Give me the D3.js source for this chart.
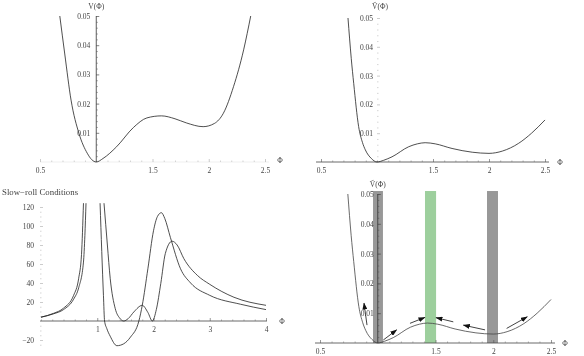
<!DOCTYPE html>
<html>
<head>
<meta charset="utf-8">
<script src="https://cdn.jsdelivr.net/npm/d3@7"></script>
<style>
  body { margin: 0; background: #fff; }
  #chart { will-change: transform; opacity: 0.999; -webkit-font-smoothing: antialiased; }
  svg text { font-family: "Liberation Serif", "DejaVu Serif", serif; font-size: 7.5px; fill: #444; }
</style>
</head>
<body>
<svg id="chart" width="584" height="356"></svg>
<script>
// V(phi), top left
const vPhi = [0.676, 0.72, 0.776, 0.847, 0.92, 0.96, 1.0, 1.06, 1.18, 1.33, 1.45, 1.58, 1.7, 1.8, 1.95, 2.05, 2.13, 2.22, 2.31, 2.373];
const vVal = [0.05, 0.037, 0.0212, 0.0097, 0.003, 0.0008, 0, 0.0012, 0.0052, 0.0118, 0.0151, 0.0158, 0.0148, 0.0134, 0.0121, 0.0132, 0.0167, 0.0258, 0.0384, 0.05];

// tilde V(phi), top right and bottom right
const vtPhi = [0.741, 0.77, 0.792, 0.836, 0.87, 0.896, 0.95, 1.0, 1.06, 1.134, 1.283, 1.36, 1.43, 1.52, 1.67, 1.85, 2.0, 2.12, 2.265, 2.38, 2.5];
const vtVal = [0.05, 0.036, 0.0273, 0.0123, 0.0068, 0.0042, 0.0012, 0, 0.0006, 0.0018, 0.0053, 0.0063, 0.0067, 0.0063, 0.0047, 0.0034, 0.003, 0.0038, 0.0065, 0.01, 0.0146];

// slow-roll conditions, bottom left (two branches each)
const etaLeftPhi = [0, 0.22, 0.4, 0.58, 0.67, 0.72, 0.755];
const etaLeftVal = [4, 8, 13.5, 27, 45, 70, 124];
const epsLeftPhi = [0, 0.22, 0.4, 0.58, 0.67, 0.755, 0.78, 0.8];
const epsLeftVal = [4, 7.5, 12, 23, 35, 62, 90, 124];
const etaRightPhi = [1.05, 1.11, 1.13, 1.17, 1.23, 1.35, 1.47, 1.59, 1.74, 1.8, 1.9, 2.0, 2.07, 2.14, 2.2, 2.3, 2.48, 2.66, 3.0, 3.55, 4.0];
const etaRightVal = [124, 27, 0, -8, -16, -26, -24, -17, 0, 16.5, 55, 95, 110, 114, 108, 88, 55, 40, 27, 17.6, 12];
const epsRightPhi = [1.12, 1.18, 1.23, 1.32, 1.4, 1.47, 1.55, 1.65, 1.8, 1.9, 1.98, 2.05, 2.13, 2.21, 2.33, 2.42, 2.54, 2.78, 3.0, 3.43, 4.0];
const epsRightVal = [124, 80, 45, 13, 3, 0, 2.5, 9.5, 16.5, 9, 0, 12, 39.6, 71, 84, 80, 65.6, 48, 38.6, 25, 16.5];

// ticks
const potTicksX = [0.5, 1.5, 2, 2.5];
const potTicksY = [0.01, 0.02, 0.03, 0.04, 0.05];
const srTicksX = [1, 2, 3, 4];
const srTicksY = [-20, 20, 40, 60, 80, 100, 120];

// bands and flow arrows, bottom right
const bandLo = [0.959, 1.409, 1.946];
const bandHi = [1.045, 1.505, 2.041];
const bandKind = ["gray", "green", "gray"];
const arrowFrom = [[0.907, 0.006], [1.048, 0.001], [1.279, 0.0066], [1.654, 0.0071], [1.929, 0.0044], [2.116, 0.0049]];
const arrowTo = [[0.881, 0.0134], [1.164, 0.0044], [1.409, 0.0086], [1.504, 0.0085], [1.741, 0.006], [2.295, 0.0088]];

const svg = d3.select("#chart");

svg.append("defs").append("marker")
  .attr("id", "head")
  .attr("markerUnits", "userSpaceOnUse")
  .attr("markerWidth", 7).attr("markerHeight", 5)
  .attr("refX", 6.5).attr("refY", 2.5)
  .attr("orient", "auto")
  .append("path").attr("d", "M0,0 L7,2.5 L0,5 z").attr("fill", "#111");

svg.select("defs").append("clipPath").attr("id", "srclip")
  .append("rect").attr("x", 0).attr("y", 203).attr("width", 584).attr("height", 153);

const zip = (a, b) => a.map((d, i) => [d, b[i]]);
const plain = (d) => String(d);

function xAxis(g, x, yPos, ticks, minorStep, dark, ext) {
  const d = x.domain();
  const minor = d3.range(Math.ceil(d[0] / minorStep) * minorStep, d[1] + 1e-9, minorStep)
    .filter((v) => !ticks.some((t) => Math.abs(t - v) < 1e-6));
  const a = g.append("g").attr("transform", `translate(0,${yPos})`);
  a.append("line")
    .attr("x1", x.range()[0] - ext[0]).attr("x2", x.range()[1] + ext[1])
    .attr("stroke", dark ? "#444" : "#e4e4e4").attr("stroke-width", dark ? 0.8 : 0.6);
  a.append("g").call(d3.axisBottom(x).tickValues(minor).tickFormat("").tickSize(-1.5))
    .call((s) => s.select(".domain").remove())
    .selectAll("line").attr("stroke", dark ? "#777" : "#bbb").attr("stroke-width", 0.6);
  a.append("g").call(d3.axisBottom(x).tickValues(ticks).tickSize(-3).tickPadding(6).tickFormat(plain))
    .call((s) => s.select(".domain").remove())
    .call((s) => s.selectAll("line").attr("stroke", dark ? "#555" : "#aaa").attr("stroke-width", 0.6))
    .call((s) => s.selectAll("text").attr("fill", "#444").style("font-size", "7.5px"));
}

function yAxis(g, y, xPos, ticks, minorStep, dark, fmt, pad) {
  const d = y.domain();
  const minor = d3.range(Math.ceil(d[0] / minorStep) * minorStep, d[1] + 1e-9, minorStep)
    .filter((v) => !ticks.some((t) => Math.abs(t - v) < 1e-6) && Math.abs(v) > 1e-9);
  const a = g.append("g").attr("transform", `translate(${xPos},0)`);
  if (dark) {
    a.append("line").attr("y1", y.range()[0]).attr("y2", y.range()[1])
      .attr("stroke", "#333").attr("stroke-width", 0.8);
  }
  a.append("g").call(d3.axisLeft(y).tickValues(minor).tickFormat("").tickSize(-1.5))
    .call((s) => s.select(".domain").remove())
    .selectAll("line").attr("stroke", dark ? "#555" : "#bbb").attr("stroke-width", 0.6);
  a.append("g").call(d3.axisLeft(y).tickValues(ticks).tickSize(-3).tickPadding(pad).tickFormat(fmt))
    .call((s) => s.select(".domain").remove())
    .call((s) => s.selectAll("line").attr("stroke", dark ? "#333" : "#aaa").attr("stroke-width", 0.6))
    .call((s) => s.selectAll("text").attr("fill", "#444").style("font-size", "7.5px"));
}

const potFmt = (d) => d3.format(".2f")(d);
const srFmt = (d) => (d < 0 ? "\u2212" + Math.abs(d) : d);

// ---- top left: V(phi)
{
  const g = svg.append("g");
  const x = d3.scaleLinear().domain([0.5, 2.5]).range([40, 265]);
  const y = d3.scaleLinear().domain([0, 0.05]).range([162, 16]);
  xAxis(g, x, y(0), potTicksX, 0.1, false, [0, 4]);
  yAxis(g, y, x(1), potTicksY, 0.002, true, potFmt, 6);
  g.append("path").datum(zip(vPhi, vVal))
    .attr("d", d3.line().x((d) => x(d[0])).y((d) => y(d[1])).curve(d3.curveMonotoneX))
    .attr("fill", "none").attr("stroke", "#222").attr("stroke-width", 0.8);
  g.append("text").attr("x", x(1)).attr("y", 9).attr("text-anchor", "middle").text("V(\u03A6)");
  g.append("text").attr("x", x(2.5) + 15).attr("y", y(0) + 1).attr("text-anchor", "middle").text("\u03A6");
}

// ---- top right: tilde V(phi)
{
  const g = svg.append("g");
  const x = d3.scaleLinear().domain([0.5, 2.5]).range([321, 545]);
  const y = d3.scaleLinear().domain([0, 0.05]).range([162, 18]);
  xAxis(g, x, y(0), potTicksX, 0.1, true, [5, 4]);
  yAxis(g, y, x(1), potTicksY, 0.002, false, potFmt, 4);
  g.append("path").datum(zip(vtPhi, vtVal))
    .attr("d", d3.line().x((d) => x(d[0])).y((d) => y(d[1])).curve(d3.curveMonotoneX))
    .attr("fill", "none").attr("stroke", "#222").attr("stroke-width", 0.8);
  g.append("text").attr("x", x(1) + 3).attr("y", 9).attr("text-anchor", "middle").text("\u1E7C(\u03A6)");
  g.append("text").attr("x", x(2.5) + 15).attr("y", y(0) + 3).attr("text-anchor", "middle").text("\u03A6");
}

// ---- bottom left: slow-roll conditions
{
  const g = svg.append("g");
  const x = d3.scaleLinear().domain([0, 4]).range([41, 266]);
  const y = d3.scaleLinear().domain([-20, 120]).range([340, 207]);
  g.append("text").attr("x", 2).attr("y", 195).style("font-size", "8.8px").text("Slow\u2212roll Conditions");
  xAxis(g, x, y(0), srTicksX, 0.2, true, [1, 1]);
  yAxis(g, d3.scaleLinear().domain([-25, 120]).range([344.75, 207]), x(0) - 1, srTicksY, 5, false, srFmt, 6);
  const line = d3.line().x((d) => x(d[0])).y((d) => y(d[1])).curve(d3.curveMonotoneX);
  const c = g.append("g").attr("clip-path", "url(#srclip)");
  [zip(etaLeftPhi, etaLeftVal), zip(epsLeftPhi, epsLeftVal), zip(etaRightPhi, etaRightVal), zip(epsRightPhi, epsRightVal)]
    .forEach((s) => {
      c.append("path").datum(s).attr("d", line)
        .attr("fill", "none").attr("stroke", "#222").attr("stroke-width", 0.8);
    });
  g.append("text").attr("x", x(4) + 16).attr("y", y(0) + 3).attr("text-anchor", "middle").text("\u03A6");
}

// ---- bottom right: tilde V with bands and arrows
{
  const g = svg.append("g");
  const x = d3.scaleLinear().domain([0.5, 2.5]).range([320, 551]);
  const y = d3.scaleLinear().domain([0, 0.05]).range([343, 194]);
  g.selectAll("rect.band").data(bandLo).enter().append("rect")
    .attr("class", "band")
    .attr("x", (d) => x(d))
    .attr("width", (d, i) => x(bandHi[i]) - x(d))
    .attr("y", y(0.051))
    .attr("height", y(0) - y(0.051))
    .attr("fill", (d, i) => (bandKind[i] === "green" ? "#9dcf9d" : "#989898"));
  xAxis(g, x, y(0), potTicksX, 0.1, true, [5, 4]);
  yAxis(g, y, x(1), potTicksY, 0.002, true, potFmt, 4);
  g.append("path").datum(zip(vtPhi, vtVal))
    .attr("d", d3.line().x((d) => x(d[0])).y((d) => y(d[1])).curve(d3.curveMonotoneX))
    .attr("fill", "none").attr("stroke", "#444").attr("stroke-width", 0.8);
  g.selectAll("line.flow").data(arrowFrom).enter().append("line")
    .attr("class", "flow")
    .attr("x1", (d) => x(d[0])).attr("y1", (d) => y(d[1]))
    .attr("x2", (d, i) => x(arrowTo[i][0])).attr("y2", (d, i) => y(arrowTo[i][1]))
    .attr("stroke", "#111").attr("stroke-width", 0.8)
    .attr("marker-end", "url(#head)");
  g.append("text").attr("x", x(1)).attr("y", 187).attr("text-anchor", "middle").text("\u1E7C(\u03A6)");
  g.append("text").attr("x", x(2.5) + 14).attr("y", y(0) + 3).attr("text-anchor", "middle").text("\u03A6");
}
</script>
</body>
</html>
